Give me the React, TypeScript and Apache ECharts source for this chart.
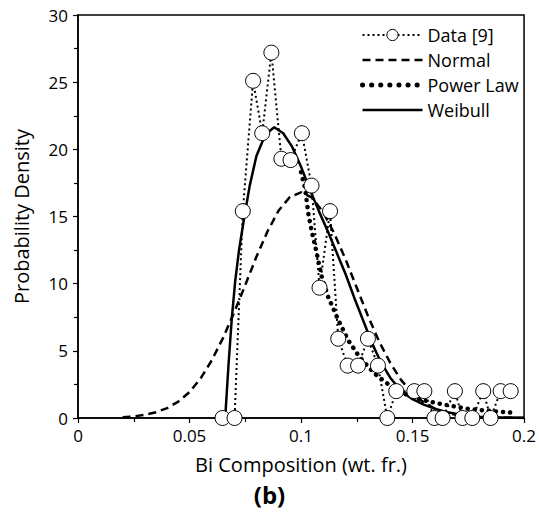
import React, { useEffect, useRef } from "react";
import * as echarts from "echarts";

const dataX = [0.0648, 0.0702, 0.0739, 0.0785, 0.0826, 0.0867, 0.0912, 0.0953, 0.1004, 0.1047, 0.1083, 0.113, 0.1167, 0.1209, 0.1256, 0.13, 0.1345, 0.1387, 0.1427, 0.1508, 0.1553, 0.1598, 0.1635, 0.169, 0.1724, 0.1768, 0.1817, 0.185, 0.1895, 0.194];
const dataY = [0, 0, 15.4, 25.1, 21.2, 27.2, 19.3, 19.2, 21.2, 17.3, 9.7, 15.4, 5.9, 3.9, 3.9, 5.9, 3.9, 0, 2, 2, 2, 0, 0, 2, 0, 0, 2, 0, 2, 2];

const normalX = [0.02, 0.025, 0.03, 0.035, 0.04, 0.045, 0.05, 0.055, 0.06, 0.065, 0.07, 0.075, 0.08, 0.085, 0.09, 0.095, 0.1, 0.105, 0.11, 0.115, 0.12, 0.125, 0.13, 0.135, 0.14, 0.145, 0.15, 0.155, 0.16, 0.165, 0.17, 0.175, 0.18, 0.185, 0.19, 0.195, 0.2];
const normalY = [0.05, 0.12, 0.24, 0.43, 0.74, 1.22, 1.93, 2.95, 4.3, 5.95, 7.85, 9.9, 12.0, 13.9, 15.45, 16.45, 16.8, 16.4, 15.3, 13.7, 11.8, 9.7, 7.6, 5.7, 4.1, 2.8, 1.85, 1.15, 0.7, 0.4, 0.22, 0.12, 0.06, 0.03, 0.015, 0.01, 0];

const weibullX = [0.066, 0.0675, 0.069, 0.0705, 0.0722, 0.0744, 0.077, 0.08, 0.084, 0.088, 0.092, 0.096, 0.1, 0.104, 0.108, 0.112, 0.116, 0.12, 0.124, 0.128, 0.132, 0.136, 0.14, 0.145, 0.15, 0.155, 0.16, 0.165, 0.17, 0.175, 0.18, 0.19, 0.2];
const weibullY = [0, 4, 7.5, 10.2, 12.5, 14.8, 17.3, 19.5, 21.1, 21.65, 21.2, 20.2, 18.7, 17.0, 15.4, 13.9, 12.3, 10.7, 8.9, 7.2, 5.5, 4.1, 3.0, 2.0, 1.4, 1.0, 0.7, 0.45, 0.3, 0.18, 0.1, 0.04, 0.02];

const powerX = [0.1, 0.1018, 0.1033, 0.1048, 0.107, 0.1093, 0.1122, 0.1164, 0.1211, 0.1264, 0.133, 0.14, 0.1456, 0.1508, 0.1553, 0.165, 0.175, 0.185, 0.195];
const powerY = [18.3, 17.1, 15.2, 13.9, 12.3, 10.5, 9.0, 7.4, 5.8, 4.5, 3.3, 2.4, 1.85, 1.55, 1.3, 0.97, 0.68, 0.52, 0.39];

const xTicks = [0, 0.05, 0.1, 0.15, 0.2];
const yTicks = [0, 5, 10, 15, 20, 25, 30];

const seriesNames = ["Data [9]", "Normal", "Power Law", "Weibull"];
const xTitle = "Bi Composition (wt. fr.)";
const yTitle = "Probability Density";
const panelLabel = "(b)";

const zip = (xs: number[], ys: number[]) => xs.map((x, i) => [x, ys[i]]);

export default function App() {
  const ref = useRef<HTMLDivElement>(null);
  useEffect(() => {
    if (!ref.current) return;
    const chart = echarts.init(ref.current, undefined, { renderer: "svg" });
    const font = "'Open Sans', Lato, sans-serif";
    const dataLine = { color: "#000", width: 2, type: [2, 3] };
    const normalLine = { color: "#000", width: 2.5, type: [8, 5] };
    const powerLine = { color: "#000", width: 4.5, type: [0.1, 7], cap: "round" };
    const weibullLine = { color: "#000", width: 2.5, type: "solid" };
    const hidden = { color: "rgba(0,0,0,0)", borderColor: "rgba(0,0,0,0)", borderWidth: 0 };
    chart.setOption({
      animation: false,
      backgroundColor: "#fff",
      textStyle: { fontFamily: font, color: "#000" },
      grid: {
        left: 78,
        right: 12,
        top: 15,
        bottom: 101,
        show: true,
        borderColor: "#000",
        borderWidth: 1.5,
        backgroundColor: "transparent",
      },
      legend: {
        orient: "vertical",
        left: 355,
        top: 21,
        itemWidth: 60,
        itemHeight: 14,
        itemGap: 7,
        data: [
          { name: seriesNames[0], lineStyle: dataLine, itemStyle: { color: "#fff", borderColor: "#000", borderWidth: 1 } },
          { name: seriesNames[1], lineStyle: normalLine, itemStyle: hidden },
          { name: seriesNames[2], lineStyle: { ...powerLine, width: 5, type: [0.1, 9] }, itemStyle: hidden },
          { name: seriesNames[3], lineStyle: weibullLine, itemStyle: hidden },
        ],
        textStyle: { fontFamily: font, fontSize: 18, color: "#000" },
      },
      xAxis: {
        type: "value",
        min: xTicks[0],
        max: xTicks[xTicks.length - 1],
        interval: 0.05,
        name: xTitle,
        nameLocation: "middle",
        nameGap: 36,
        nameTextStyle: { fontFamily: font, fontSize: 20, color: "#000" },
        axisLine: { show: true, lineStyle: { color: "#000", width: 1.5 } },
        axisTick: { show: true, inside: false, length: 5, lineStyle: { color: "#000", width: 1.2 } },
        minorTick: { show: true, splitNumber: 2, length: 4, lineStyle: { color: "#000", width: 1.2 } },
        axisLabel: { fontFamily: font, fontSize: 17, color: "#000", margin: 9 },
        splitLine: { show: false },
      },
      yAxis: {
        type: "value",
        min: yTicks[0],
        max: yTicks[yTicks.length - 1],
        interval: 5,
        name: yTitle,
        nameLocation: "middle",
        nameGap: 47,
        nameTextStyle: { fontFamily: font, fontSize: 20, color: "#000" },
        axisLine: { show: true, lineStyle: { color: "#000", width: 1.5 } },
        axisTick: { show: true, inside: false, length: 5, lineStyle: { color: "#000", width: 1.2 } },
        minorTick: { show: true, splitNumber: 2, length: 4, lineStyle: { color: "#000", width: 1.2 } },
        axisLabel: { fontFamily: font, fontSize: 17, color: "#000", margin: 10 },
        splitLine: { show: false },
      },
      graphic: [
        {
          type: "text",
          left: "center",
          top: 482,
          style: { text: panelLabel, font: `bold 24px ${font}`, fill: "#000" },
        },
      ],
      series: [
        {
          name: seriesNames[1],
          type: "line",
          data: zip(normalX, normalY),
          showSymbol: false,
          symbol: "none",
          lineStyle: normalLine,
          itemStyle: { color: "#000" },
          z: 2,
        },
        {
          name: seriesNames[2],
          type: "line",
          data: zip(powerX, powerY),
          showSymbol: false,
          symbol: "none",
          lineStyle: powerLine,
          itemStyle: { color: "#000" },
          z: 3,
        },
        {
          name: seriesNames[3],
          type: "line",
          data: zip(weibullX, weibullY),
          showSymbol: false,
          symbol: "none",
          lineStyle: weibullLine,
          itemStyle: { color: "#000" },
          z: 4,
        },
        {
          name: seriesNames[0],
          type: "line",
          data: zip(dataX, dataY),
          symbol: "circle",
          symbolSize: 15,
          showSymbol: true,
          lineStyle: dataLine,
          itemStyle: { color: "#fff", borderColor: "#000", borderWidth: 1 },
          z: 5,
        },
      ],
    });
    return () => chart.dispose();
  }, []);
  return <div ref={ref} style={{ width: 539, height: 519, position: "absolute", left: 0, top: 0 }} />;
}
